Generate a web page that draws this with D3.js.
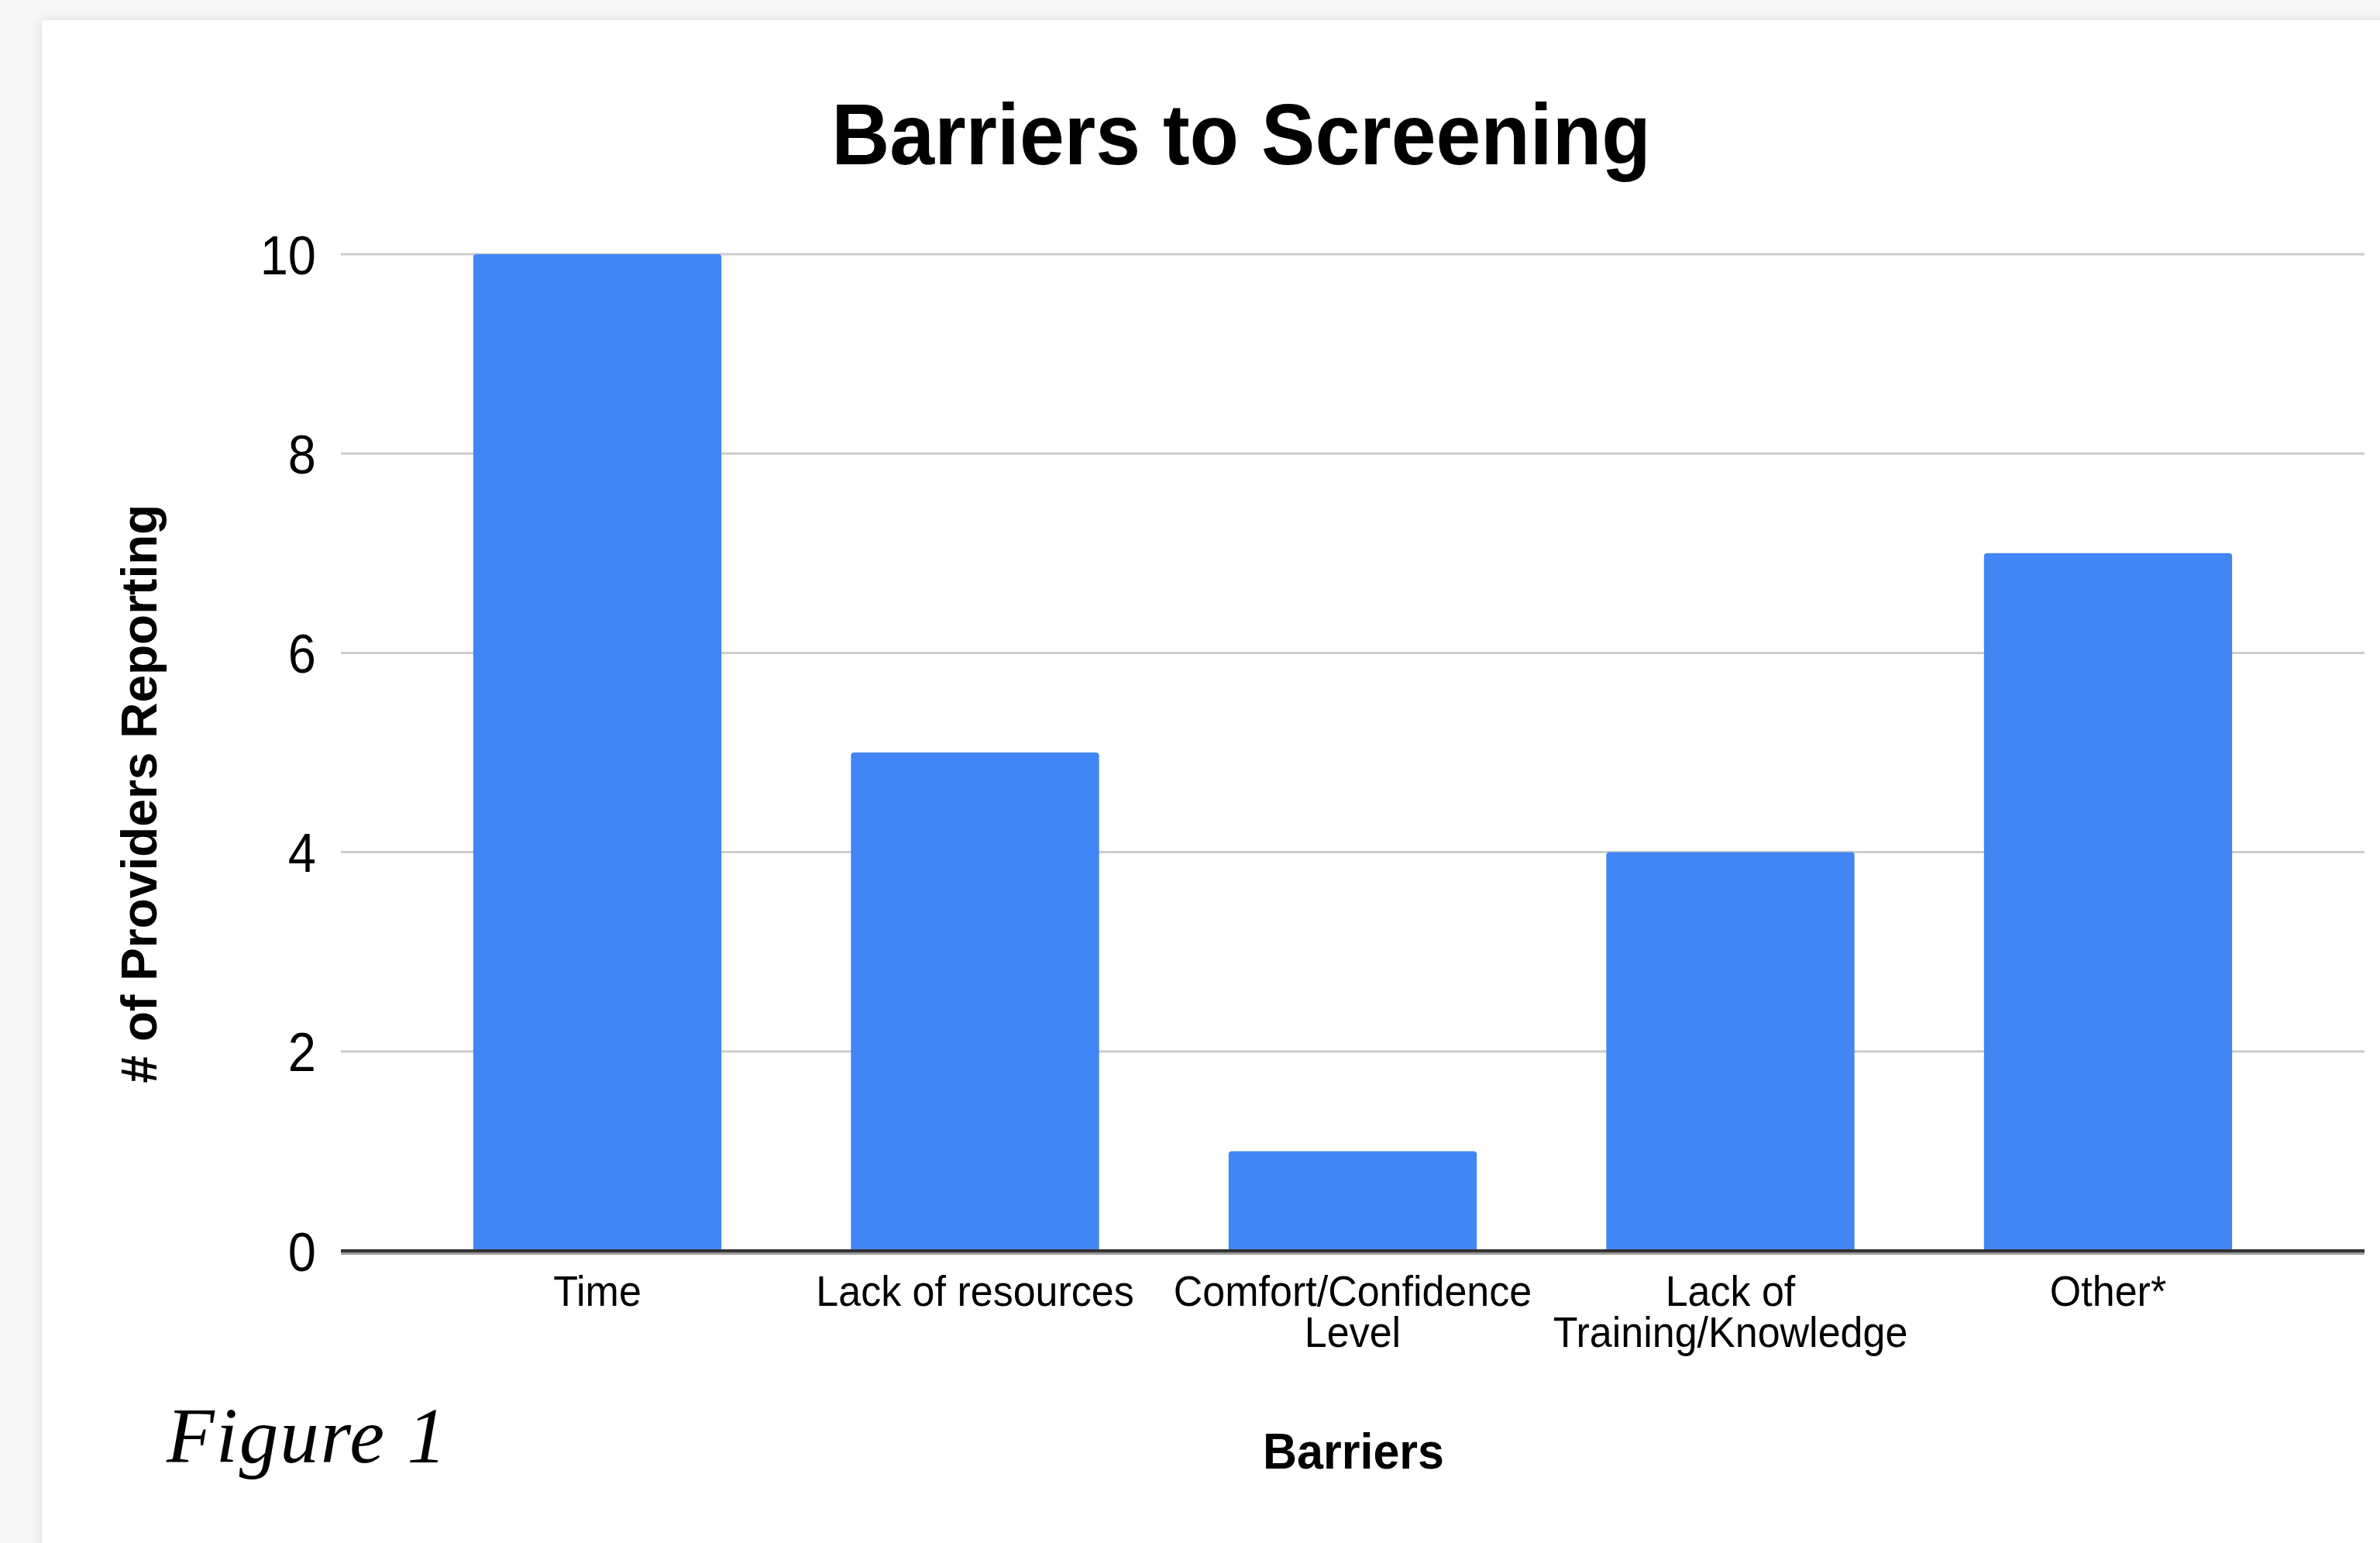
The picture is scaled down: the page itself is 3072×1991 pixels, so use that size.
<!DOCTYPE html>
<html>
<head>
<meta charset="utf-8">
<script src="https://cdn.jsdelivr.net/npm/d3@7"></script>
<style>
  body { margin: 0; background: #f7f7f7; }
  svg { display: block; }
  text { font-family: "Liberation Sans", Arial, sans-serif; fill: #000; }
</style>
</head>
<body>
<div id="chart"></div>
<script>
// data
var categories = ["Time", "Lack of resources", "Comfort/Confidence Level", "Lack of Training/Knowledge", "Other*"];
var tickLines = [["Time"], ["Lack of resources"], ["Comfort/Confidence", "Level"], ["Lack of", "Training/Knowledge"], ["Other*"]];
var values = [10, 5, 1, 4, 7];
var yTicks = [0, 2, 4, 6, 8, 10];

var width = 3072,
    height = 1991,
    stretch = 1.07; // labels in the source look a bit taller than Arial

var svg = d3.select("#chart").append("svg")
    .attr("width", width)
    .attr("height", height);

var defs = svg.append("defs");
var shadow = defs.append("filter").attr("id", "shadow")
    .attr("x", "-5%").attr("y", "-5%").attr("width", "110%").attr("height", "110%");
shadow.append("feDropShadow")
    .attr("dx", 0).attr("dy", 0).attr("stdDeviation", 8)
    .attr("flood-color", "#000").attr("flood-opacity", 0.12);

// card
svg.append("rect")
    .attr("x", 54).attr("y", 26)
    .attr("width", width).attr("height", height)
    .attr("fill", "#fff")
    .attr("filter", "url(#shadow)");

var x = d3.scaleBand()
    .domain(categories)
    .range([528, 2964])
    .paddingInner(0.343)
    .paddingOuter(0.17);

var y = d3.scaleLinear()
    .domain([0, 10])
    .range([1614, 328]);

// gridlines
svg.append("g")
    .selectAll("line")
    .data(yTicks.filter(function(d) { return d > 0; }))
    .enter().append("line")
    .attr("x1", 440).attr("x2", 3052)
    .attr("y1", function(d) { return y(d); })
    .attr("y2", function(d) { return y(d); })
    .attr("stroke", "#cccccc")
    .attr("stroke-width", 3);

// y axis labels
var yAxis = svg.append("g")
    .attr("transform", "translate(440,0)")
    .call(d3.axisLeft(y).tickValues(yTicks).tickSize(0).tickPadding(32));
yAxis.select(".domain").remove();
yAxis.selectAll("text")
    .attr("font-size", 65)
    .attr("font-family", "Liberation Sans, Arial, sans-serif")
    .attr("fill", "#111")
    .attr("dy", "0.36em")
    .attr("transform", "scale(1," + stretch + ")");

// bars
svg.append("g")
    .selectAll("path")
    .data(values)
    .enter().append("path")
    .attr("fill", "#4285f4")
    .attr("d", function(d, i) {
        var x0 = x(categories[i]), w = x.bandwidth(), top = y(d), bot = y(0), r = 4;
        return "M" + x0 + "," + bot +
            "V" + (top + r) + "Q" + x0 + "," + top + " " + (x0 + r) + "," + top +
            "H" + (x0 + w - r) + "Q" + (x0 + w) + "," + top + " " + (x0 + w) + "," + (top + r) +
            "V" + bot + "Z";
    });

// baseline
svg.append("line")
    .attr("x1", 440).attr("x2", 3052)
    .attr("y1", 1614).attr("y2", 1614)
    .attr("stroke", "#333").attr("stroke-width", 4);
svg.append("line")
    .attr("x1", 440).attr("x2", 3052)
    .attr("y1", 1617.5).attr("y2", 1617.5)
    .attr("stroke", "#999").attr("stroke-width", 3);

// x axis labels
var xAxis = svg.append("g")
    .attr("transform", "translate(0,1614)")
    .call(d3.axisBottom(x).tickSize(0).tickFormat(""));
xAxis.select(".domain").remove();
xAxis.selectAll(".tick").each(function(d, i) {
    var t = d3.select(this).append("text")
        .attr("text-anchor", "middle")
        .attr("font-size", 52)
        .attr("fill", "#111")
        .attr("transform", "translate(0,71) scale(1," + stretch + ")");
    tickLines[i].forEach(function(line, j) {
        t.append("tspan").attr("x", 0).attr("y", j * 49.5).text(line);
    });
});

// title
svg.append("text")
    .attr("transform", "translate(1602,212) scale(1," + stretch + ")")
    .attr("text-anchor", "middle")
    .attr("font-size", 104)
    .attr("font-weight", "bold")
    .text("Barriers to Screening");

// axis titles
svg.append("text")
    .attr("transform", "translate(1747,1895) scale(1," + stretch + ")")
    .attr("text-anchor", "middle")
    .attr("font-size", 61)
    .attr("font-weight", "bold")
    .text("Barriers");

svg.append("text")
    .attr("transform", "translate(202,1024) rotate(-90)")
    .attr("text-anchor", "middle")
    .attr("font-size", 64)
    .attr("font-weight", "bold")
    .text("# of Providers Reporting");

// caption
svg.append("text")
    .attr("x", 215).attr("y", 1887)
    .attr("font-style", "italic")
    .attr("font-size", 101)
    .attr("letter-spacing", 2)
    .style("font-family", "'Liberation Serif', 'Times New Roman', serif")
    .text("Figure 1");
</script>
</body>
</html>
